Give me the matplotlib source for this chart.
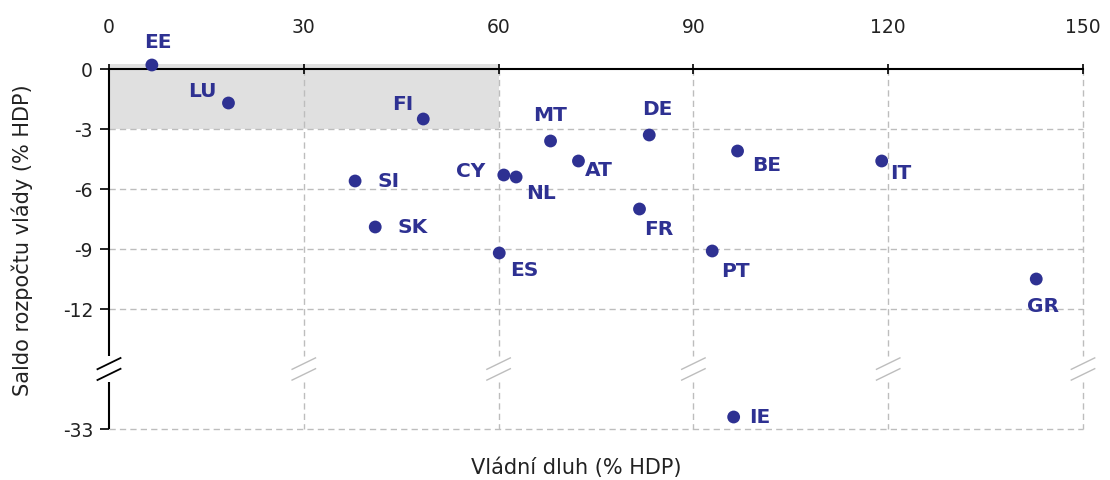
import matplotlib
matplotlib.use("Agg")
import matplotlib.pyplot as plt
from matplotlib.patches import Rectangle

# government debt vs budget balance, % of GDP
countries = ['EE', 'LU', 'FI', 'SI', 'SK', 'CY', 'NL', 'MT', 'AT',
             'DE', 'ES', 'FR', 'BE', 'PT', 'IT', 'GR', 'IE']
debt = [6.6, 18.4, 48.4, 37.9, 41.0, 60.8, 62.7, 68.0, 72.3,
        83.2, 60.1, 81.7, 96.8, 92.9, 119.0, 142.8, 96.2]
balance = [0.2, -1.7, -2.5, -5.6, -7.9, -5.3, -5.4, -3.6, -4.6,
           -3.3, -9.2, -7.0, -4.1, -9.1, -4.6, -10.5, -32.4]

x_ticks = [0, 30, 60, 90, 120, 150]
y_ticks = [0, -3, -6, -9, -12, -33]

BREAK_SHIFT = 15   # values below the break are moved up by this much
BREAK_POS = -15    # where the axis break sits (in shifted units)

NAVY = '#2E3192'
GRID = '#BDBDBD'


def to_pos(v):
    #squeeze the empty part of the axis between -12 and -33
    return v + BREAK_SHIFT if v < -20 else v


def break_mark(ax, x, color, lw):
    #two short slanted strokes ("//") on a vertical line
    dx, dy, sep = 1.9, 0.3, 0.27
    for c in (BREAK_POS + sep, BREAK_POS - sep):
        ax.plot([x - dx, x + dx], [c - dy, c + dy], color=color, lw=lw,
                clip_on=False, zorder=4, solid_capstyle='butt')


fig = plt.figure(figsize=(11.1, 4.81), dpi=100)
ax = fig.add_axes([109 / 1110, 1 - 430 / 481, 974 / 1110, 370 / 481])

ax.set_xlim(0, 150)
ax.set_ylim(to_pos(-33), 0.5)

# shaded Maastricht zone
ax.add_patch(Rectangle((0, -3), 60, 3.25, facecolor='#E0E0E0',
                       edgecolor='none', zorder=0))

# horizontal grid
for t in y_ticks[1:]:
    ax.plot([0, 150], [to_pos(t)] * 2, color=GRID, lw=1.0,
            dashes=(4.5, 3), zorder=1, clip_on=False)

# vertical grid with a gap at the break
gap = 0.65
for t in x_ticks[1:]:
    ax.plot([t, t], [0, BREAK_POS + gap], color=GRID, lw=1.0,
            dashes=(4.5, 3), zorder=1, clip_on=False)
    ax.plot([t, t], [BREAK_POS - gap, to_pos(-33)], color=GRID, lw=1.0,
            dashes=(4.5, 3), zorder=1, clip_on=False)
    break_mark(ax, t, GRID, 1.0)

# left axis line drawn by hand so it can be broken
ax.plot([0, 0], [0, BREAK_POS + gap], color='black', lw=1.5,
        clip_on=False, zorder=4, solid_capstyle='butt')
ax.plot([0, 0], [BREAK_POS - gap, to_pos(-33)], color='black', lw=1.5,
        clip_on=False, zorder=4, solid_capstyle='butt')
break_mark(ax, 0, 'black', 1.3)

for side in ['left', 'right', 'bottom']:
    ax.spines[side].set_visible(False)
ax.spines['top'].set_position(('data', 0))
ax.spines['top'].set_linewidth(1.5)
ax.spines['top'].set_zorder(4)

ax.xaxis.tick_top()
ax.set_xticks(x_ticks)
ax.set_xticklabels([str(t) for t in x_ticks])
ax.tick_params(axis='x', direction='inout', length=7, width=1.2,
               pad=20, labelsize=13.5, labelcolor='#222222')

ax.set_yticks([to_pos(t) for t in y_ticks])
ax.set_yticklabels([str(t) for t in y_ticks])
ax.tick_params(axis='y', direction='out', length=6.5, width=1.2,
               pad=5, labelsize=13.5, labelcolor='#222222')

# points
ys = [to_pos(b) for b in balance]
ax.scatter(debt, ys, s=85, color=NAVY, zorder=5, clip_on=False,
           edgecolors='none')

# label offsets (points) for each country code
LABEL_OFFSETS = {
    'EE': (4, 17), 'LU': (-19, 9), 'FI': (-15, 11.5), 'SI': (24, 0),
    'SK': (27, 0), 'CY': (-24, 3), 'NL': (18, -11), 'MT': (0, 19),
    'AT': (15, -6), 'DE': (6, 19), 'ES': (18, -12), 'FR': (14, -14),
    'BE': (21, -10), 'PT': (17, -14), 'IT': (14, -8), 'GR': (5, -19),
    'IE': (19, 0),
}
for name, x, y in zip(countries, debt, ys):
    ax.annotate(name, (x, y), xytext=LABEL_OFFSETS[name],
                textcoords='offset points', ha='center', va='center',
                fontsize=14.5, fontweight='bold', color=NAVY, zorder=6,
                annotation_clip=False)

fig.text(576 / 1110, 1 - 468 / 481, 'Vládní dluh (% HDP)', ha='center',
         va='center', fontsize=15, color='#222222')
fig.text(22 / 1110, 1 - 240 / 481, 'Saldo rozpočtu vlády (% HDP)',
         ha='center', va='center', rotation=90, fontsize=15,
         color='#222222')

fig.savefig('out.png', dpi=100)
